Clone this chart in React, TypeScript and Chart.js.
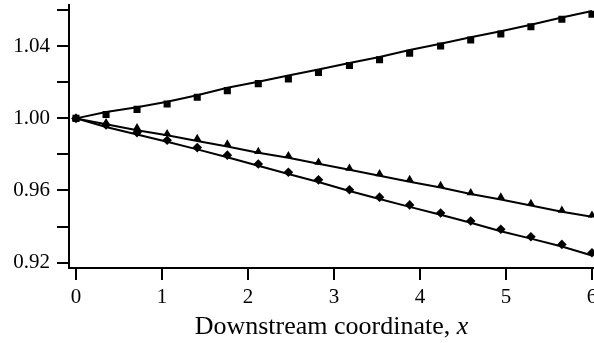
import React, { useEffect, useRef } from "react";
import { Chart, registerables } from "chart.js";

Chart.register(...registerables);

// Sampling stations along the channel (downstream coordinate x)
const X_POS = [0, 0.35, 0.71, 1.06, 1.41, 1.76, 2.12, 2.47, 2.82, 3.18, 3.53, 3.88, 4.24, 4.59, 4.94, 5.29, 5.65, 6.0];

// Measured values (markers)
const SQUARE_PTS = [1.0, 1.0022, 1.005, 1.008, 1.0117, 1.0154, 1.0193, 1.0218, 1.0255, 1.0293, 1.0325, 1.0361, 1.0402, 1.0435, 1.0468, 1.0508, 1.055, 1.0578];
const TRIANGLE_PTS = [1.0, 0.9976, 0.9948, 0.9915, 0.9888, 0.9857, 0.9816, 0.9793, 0.9756, 0.9723, 0.9692, 0.966, 0.9627, 0.9587, 0.9563, 0.9527, 0.949, 0.9463];
const DIAMOND_PTS = [1.0, 0.9963, 0.9921, 0.9879, 0.9838, 0.9796, 0.9747, 0.9701, 0.9659, 0.9604, 0.9563, 0.952, 0.9475, 0.9431, 0.9385, 0.9343, 0.9301, 0.9255];

// Predicted curves (solid lines)
const SQUARE_CURVE = [1.0, 1.0035, 1.0062, 1.0092, 1.0128, 1.017, 1.0203, 1.0238, 1.0271, 1.0307, 1.034, 1.0379, 1.0414, 1.045, 1.0483, 1.0519, 1.056, 1.0596];
const TRIANGLE_CURVE = [1.0, 0.9967, 0.9934, 0.9906, 0.9875, 0.9844, 0.9809, 0.9782, 0.9748, 0.9715, 0.9682, 0.9649, 0.9616, 0.9581, 0.955, 0.9517, 0.9482, 0.9454];
const DIAMOND_CURVE = [1.0, 0.9952, 0.9911, 0.987, 0.9828, 0.9784, 0.9737, 0.9691, 0.9647, 0.9597, 0.9553, 0.9509, 0.9465, 0.9421, 0.9374, 0.9333, 0.9289, 0.9239];

const X_MIN = -0.081;
const X_MAX = 6.15;
const Y_MIN = 0.917;
const Y_MAX = 1.0629;

const X_TITLE = "Downstream coordinate, ";
const X_TITLE_VAR = "x";

const SERIF = '"Liberation Serif", "Times New Roman", serif';

const toPoints = (ys: number[]) => X_POS.map((x, i) => ({ x, y: ys[i] }));

const markerSet = (ys: number[], style: string, radius: number) => ({
  data: toPoints(ys),
  showLine: false,
  pointStyle: style,
  pointRadius: radius,
  pointBackgroundColor: "#000",
  pointBorderColor: "#000",
  pointBorderWidth: 0,
});

const curveSet = (ys: number[]) => ({
  data: toPoints(ys),
  showLine: true,
  borderColor: "#000",
  borderWidth: 2,
  pointRadius: 0,
  tension: 0,
  fill: false,
});

// Axis title with an italic variable name
const axisTitlePlugin = {
  id: "axisTitle",
  afterDraw(chart: any) {
    const ctx = chart.ctx as CanvasRenderingContext2D;
    ctx.save();
    ctx.fillStyle = "#000";
    ctx.textBaseline = "alphabetic";
    const normal = `26px ${SERIF}`;
    const italic = `italic 26px ${SERIF}`;
    ctx.font = normal;
    const w1 = ctx.measureText(X_TITLE).width;
    ctx.font = italic;
    const w2 = ctx.measureText(X_TITLE_VAR).width;
    const cx = (chart.chartArea.left + 594) / 2;
    const x0 = cx - (w1 + w2) / 2;
    const y = 334;
    ctx.font = normal;
    ctx.fillText(X_TITLE, x0, y);
    ctx.font = italic;
    ctx.fillText(X_TITLE_VAR, x0 + w1, y);
    ctx.restore();
  },
};

export default function App() {
  const canvasRef = useRef<HTMLCanvasElement | null>(null);

  useEffect(() => {
    if (!canvasRef.current) return;
    const tickFont = { family: SERIF, size: 21 };
    const chart = new Chart(canvasRef.current, {
      type: "scatter",
      data: {
        datasets: [
          curveSet(SQUARE_CURVE),
          curveSet(TRIANGLE_CURVE),
          curveSet(DIAMOND_CURVE),
          markerSet(SQUARE_PTS, "rect", 5),
          markerSet(TRIANGLE_PTS, "triangle", 4.8),
          markerSet(DIAMOND_PTS, "rectRot", 4.8),
        ] as any,
      },
      plugins: [axisTitlePlugin],
      options: {
        animation: false,
        responsive: false,
        devicePixelRatio: 1,
        layout: { padding: { left: 0, top: 3, right: 620 - (69 + (X_MAX - X_MIN) * 86), bottom: 0 } },
        plugins: { legend: { display: false }, tooltip: { enabled: false }, title: { display: false } },
        scales: {
          x: {
            type: "linear",
            min: X_MIN,
            max: X_MAX,
            border: { display: true, color: "#000", width: 2 },
            grid: { display: true, drawOnChartArea: false, drawTicks: true, tickLength: 12, color: "#000", lineWidth: 2 },
            ticks: {
              stepSize: 1,
              includeBounds: false,
              color: "#000",
              font: tickFont,
              padding: 5,
              maxRotation: 0,
              autoSkip: false,
              callback: (v: any) => String(Math.round(Number(v))),
            },
            afterFit: (scale: any) => {
              scale.height = 75;
              scale.paddingLeft = 0;
              scale.paddingRight = 0;
            },
          },
          y: {
            type: "linear",
            min: Y_MIN,
            max: Y_MAX,
            border: { display: true, color: "#000", width: 2 },
            grid: { display: true, drawOnChartArea: false, drawTicks: true, tickLength: 12, color: "#000", lineWidth: 2 },
            ticks: {
              stepSize: 0.02,
              includeBounds: false,
              color: "#000",
              font: tickFont,
              padding: 7,
              autoSkip: false,
              callback: (v: any) => {
                const n = Math.round(Number(v) * 100);
                return n % 4 === 0 ? (n / 100).toFixed(2) : "";
              },
            },
            afterFit: (scale: any) => {
              scale.width = 69;
              scale.paddingTop = 0;
              scale.paddingBottom = 0;
            },
          },
        },
      } as any,
    });
    return () => chart.destroy();
  }, []);

  return (
    <div style={{ position: "absolute", left: 0, top: 0, width: 594, height: 343, overflow: "hidden", background: "#fff" }}>
      <canvas ref={canvasRef} width={620} height={343} style={{ display: "block" }} />
    </div>
  );
}
